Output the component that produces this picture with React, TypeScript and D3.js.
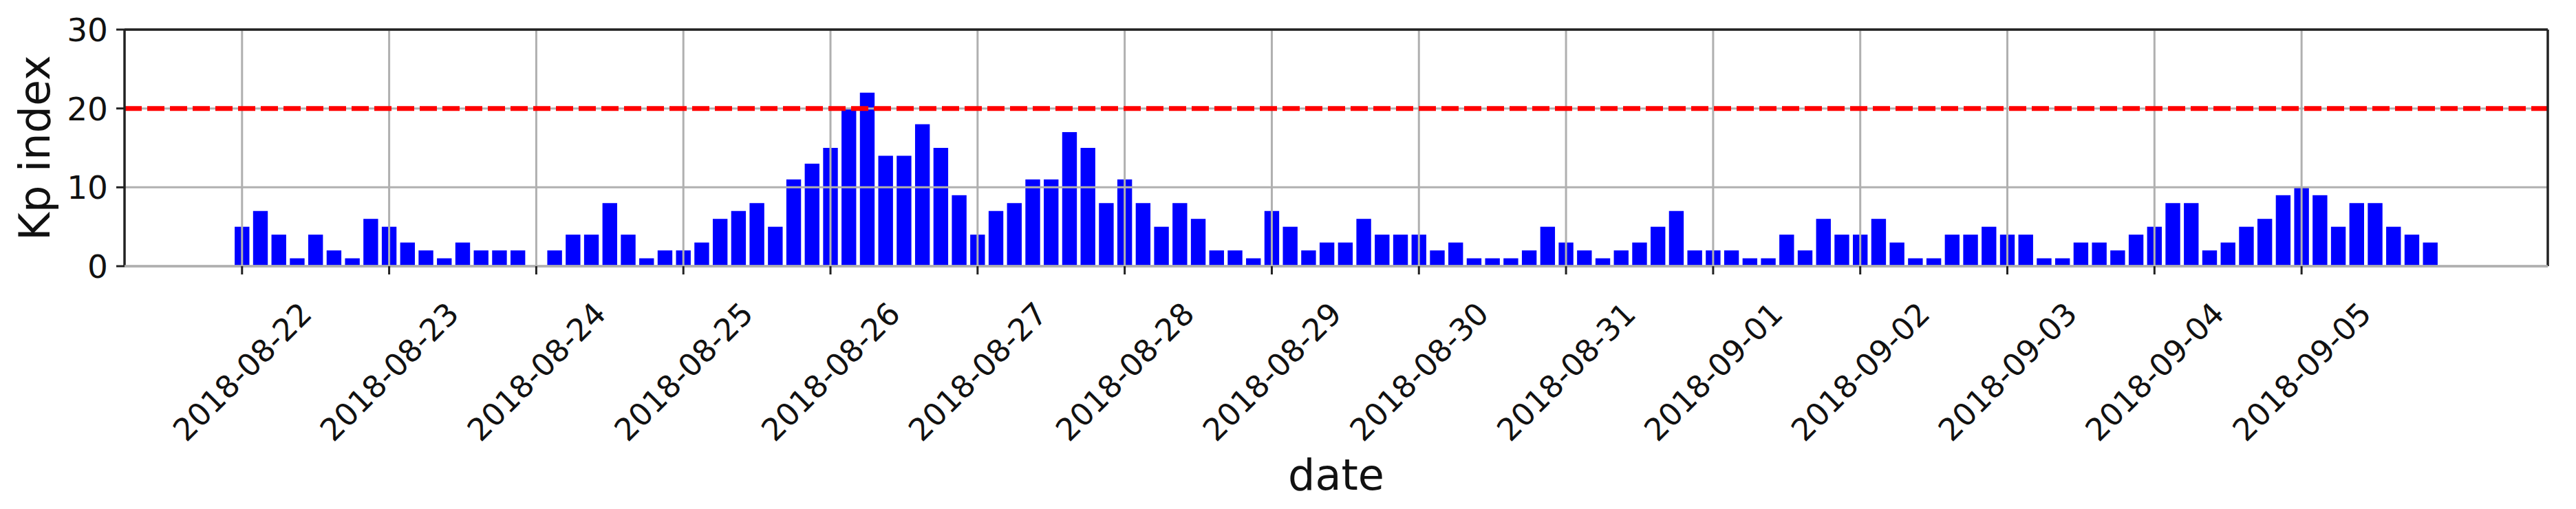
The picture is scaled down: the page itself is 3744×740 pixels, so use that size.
import React from 'react';
import * as d3 from 'd3';

// one tick label per day
const dayLabels = [
  '2018-08-22', '2018-08-23', '2018-08-24', '2018-08-25', '2018-08-26',
  '2018-08-27', '2018-08-28', '2018-08-29', '2018-08-30', '2018-08-31',
  '2018-09-01', '2018-09-02', '2018-09-03', '2018-09-04', '2018-09-05',
];

// 3-hourly Kp (x10), 8 per day starting 2018-08-22 00:00 UT
const kpValues = [
  5, 7, 4, 1, 4, 2, 1, 6,
  5, 3, 2, 1, 3, 2, 2, 2,
  0, 2, 4, 4, 8, 4, 1, 2,
  2, 3, 6, 7, 8, 5, 11, 13,
  15, 20, 22, 14, 14, 18, 15, 9,
  4, 7, 8, 11, 11, 17, 15, 8,
  11, 8, 5, 8, 6, 2, 2, 1,
  7, 5, 2, 3, 3, 6, 4, 4,
  4, 2, 3, 1, 1, 1, 2, 5,
  3, 2, 1, 2, 3, 5, 7, 2,
  2, 2, 1, 1, 4, 2, 6, 4,
  4, 6, 3, 1, 1, 4, 4, 5,
  4, 4, 1, 1, 3, 3, 2, 4,
  5, 8, 8, 2, 3, 5, 6, 9,
  10, 9, 5, 8, 8, 5, 4, 3,
];

const yTicks = [0, 10, 20, 30];
const stormLevel = 20;

const W = 3744;
const H = 740;
const left = 181, right = 3703, top = 43, bottom = 387;
const DAY = 24 * 3600 * 1000;
const start = Date.UTC(2018, 7, 22);
const barWidthDays = 0.1;

const App = () => {
  const times = kpValues.map((_, i) => start + i * DAY / 8);
  const dayTimes = dayLabels.map(s => Date.parse(s + 'T00:00:00Z'));

  // matplotlib style 5% margin around the bar extent
  const lo = times[0] - barWidthDays / 2 * DAY;
  const hi = times[times.length - 1] + barWidthDays / 2 * DAY;
  const pad = (hi - lo) * 0.05;
  const x = d3.scaleUtc().domain([new Date(lo - pad), new Date(hi + pad)]).range([left, right]);
  const y = d3.scaleLinear().domain([0, 30]).range([bottom, top]);
  const bw = x(new Date(start + barWidthDays * DAY)) - x(new Date(start));

  const grid = '#b0b0b0';

  return (
    <div style={{ position: 'absolute', left: 0, top: 0 }}>
      <svg width={W} height={H} style={{ display: 'block' }} fontFamily="'DejaVu Sans', sans-serif">
        <rect width={W} height={H} fill="white" />

        {kpValues.map((v, i) => (
          <rect key={i}
            x={x(new Date(times[i])) - bw / 2}
            y={y(v)}
            width={bw}
            height={y(0) - y(v)}
            fill="#0000ff" />
        ))}

        {/* grid drawn over the bars */}
        {dayTimes.map((t, i) => (
          <line key={'gx' + i} x1={x(new Date(t))} x2={x(new Date(t))} y1={top} y2={bottom}
            stroke={grid} strokeWidth={3} />
        ))}
        {yTicks.map(v => (
          <line key={'gy' + v} x1={left} x2={right} y1={y(v)} y2={y(v)} stroke={grid} strokeWidth={3} />
        ))}

        <line x1={left} x2={right} y1={y(stormLevel)} y2={y(stormLevel)}
          stroke="#ff0000" strokeWidth={7} strokeDasharray="25 8" />

        {/* frame */}
        <line x1={left} x2={right} y1={top} y2={top} stroke="#222" strokeWidth={3.5} />
        <line x1={left} x2={left} y1={top} y2={bottom} stroke="#222" strokeWidth={3.5} />
        <line x1={right} x2={right} y1={top} y2={bottom} stroke="#222" strokeWidth={3.5} />
        <line x1={left} x2={right} y1={bottom} y2={bottom} stroke={grid} strokeWidth={3.5} />

        {/* y axis */}
        {yTicks.map(v => (
          <g key={'yt' + v}>
            <line x1={left - 12} x2={left} y1={y(v)} y2={y(v)} stroke="#222" strokeWidth={3} />
            <text x={157} y={y(v)} dy="0.36em" textAnchor="end" fontSize={47} fill="#111">{v}</text>
          </g>
        ))}
        <text transform={`translate(72, ${(top + bottom) / 2}) rotate(-90)`} textAnchor="middle"
          fontSize={62} fill="#111">Kp index</text>

        {/* x axis */}
        {dayTimes.map((t, i) => {
          const px = x(new Date(t));
          return (
            <g key={'xt' + i}>
              <line x1={px} x2={px} y1={bottom} y2={bottom + 12} stroke="#222" strokeWidth={3} />
              <text transform={`translate(${px}, 540) rotate(-45)`} textAnchor="middle" dy="0.36em"
                fontSize={45} fill="#111">{dayLabels[i]}</text>
            </g>
          );
        })}
        <text x={(left + right) / 2} y={712} textAnchor="middle" fontSize={62} fill="#111">date</text>
      </svg>
    </div>
  );
};

export default App;
